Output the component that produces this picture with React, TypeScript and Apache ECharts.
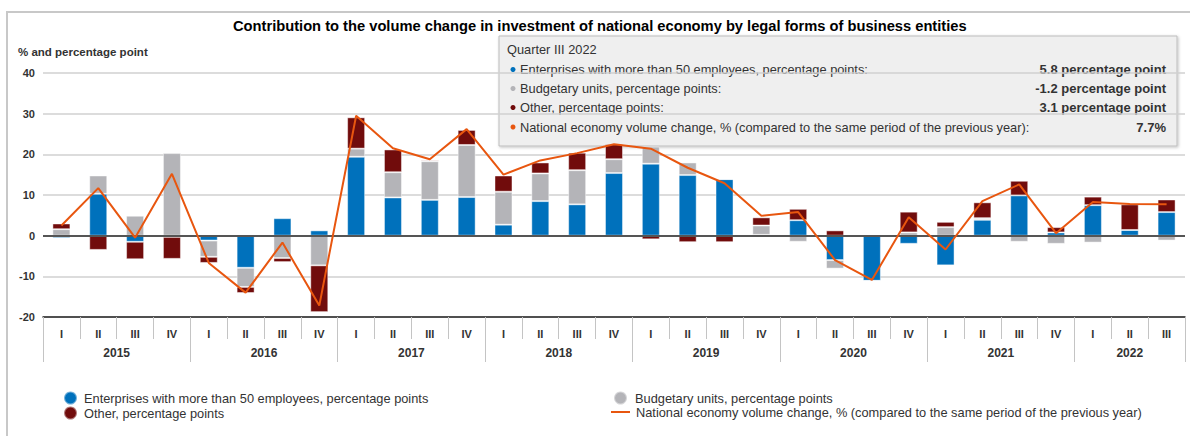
import React, { useEffect, useRef } from "react";
import * as echarts from "echarts";

const years = ["2015", "2016", "2017", "2018", "2019", "2020", "2021", "2022"];
const quarterNames = ["I", "II", "III", "IV"];
const quarterLabels = [
  "I", "II", "III", "IV", "I", "II", "III", "IV", "I", "II", "III", "IV",
  "I", "II", "III", "IV", "I", "II", "III", "IV", "I", "II", "III", "IV",
  "I", "II", "III", "IV", "I", "II", "III",
];

const enterprises = [
  -0.6, 10.3, -1.5, -0.3,
  -1.2, -7.9, 4.3, 1.3,
  19.4, 9.4, 8.8, 9.5,
  2.7, 8.5, 7.7, 15.4,
  17.7, 14.9, 13.9, 0.2,
  3.8, -6.0, -11.1, -2.0,
  -7.3, 3.9, 9.9, 0.8,
  7.5, 1.4, 5.8,
];
const budgetary = [
  1.6, 4.5, 4.9, 20.3,
  -4.0, -4.7, -5.5, -7.3,
  2.0, 6.2, 9.5, 12.8,
  8.1, 6.8, 8.4, 3.4,
  4.2, 3.1, 0.1, 2.3,
  -1.5, -2.1, 0.0, 0.8,
  2.1, 0.4, -1.5, -2.0,
  -1.7, 0.0, -1.2,
];
const other = [
  1.4, -3.5, -4.3, -5.4,
  -1.5, -1.5, -1.0, -11.5,
  7.7, 5.6, 0.3, 3.7,
  4.0, 2.7, 4.3, 3.7,
  -0.9, -1.6, -1.6, 2.0,
  2.8, 1.3, 0.2, 5.1,
  1.3, 3.9, 3.6, 1.3,
  2.1, 6.3, 3.1,
];
const national = [
  2.5, 11.7, -0.5, 15.2,
  -6.7, -14.0, -1.7, -17.2,
  29.5, 21.5, 18.8, 26.2,
  15.0, 18.5, 20.3, 22.5,
  21.4, 16.7, 12.9, 4.9,
  5.8, -6.0, -10.9, 4.5,
  -3.4, 8.5, 12.6, 0.6,
  8.3, 7.8, 7.7,
];

const yearTickValues = [0, 4, 8, 12, 16, 20, 24, 28, 31];
const yearLabelValues = [2, 6, 10, 14, 18, 22, 26, 29.5];

const S_ENT = "Enterprises with more than 50 employees, percentage points";
const S_BUD = "Budgetary units, percentage points";
const S_OTH = "Other, percentage points";
const S_NAT = "National economy volume change, % (compared to the same period of the previous year)";

const C_BLUE = "#0071bc";
const C_GRAY = "#b4b4b8";
const C_RED = "#710c0c";
const C_ORANGE = "#e8560f";

const FONT = "'Liberation Sans', Arial, sans-serif";

export default function App() {
  const ref = useRef<HTMLDivElement>(null);
  useEffect(() => {
    if (!ref.current) return;
    const chart = echarts.init(ref.current, undefined, { renderer: "svg" });
    const last = enterprises.length - 1;
    const lastYear = years[Math.floor(last / 4)];
    const lastQ = quarterNames[last % 4];
    const rows = [
      { name: S_ENT, color: C_BLUE, value: `${enterprises[last].toFixed(1)} percentage point` },
      { name: S_BUD, color: C_GRAY, value: `${budgetary[last].toFixed(1)} percentage point` },
      { name: S_OTH, color: C_RED, value: `${other[last].toFixed(1)} percentage point` },
      { name: S_NAT, color: C_ORANGE, value: `${national[last].toFixed(1)}%` },
    ];
    const rowY = [69.5, 88.5, 107.5, 127];
    const tipChildren: any[] = [
      {
        type: "rect",
        shape: { x: 499, y: 36, width: 678, height: 110 },
        style: {
          fill: "rgba(239,239,239,0.96)",
          stroke: "#bdbdbd",
          lineWidth: 1,
          shadowBlur: 3,
          shadowColor: "rgba(0,0,0,0.25)",
          shadowOffsetX: 1,
          shadowOffsetY: 1,
        },
      },
      {
        type: "text",
        x: 507,
        y: 49,
        style: {
          text: `Quarter ${lastQ} ${lastYear}`,
          font: `12.8px ${FONT}`,
          fill: "#333",
          verticalAlign: "middle",
        },
      },
    ];
    rows.forEach((r, i) => {
      tipChildren.push({
        type: "circle",
        shape: { cx: 513, cy: rowY[i], r: 2.5 },
        style: { fill: r.color },
      });
      tipChildren.push({
        type: "text",
        x: 520,
        y: rowY[i],
        style: { text: r.name + ":", font: `12.8px ${FONT}`, fill: "#333", verticalAlign: "middle" },
      });
      tipChildren.push({
        type: "text",
        x: 1166,
        y: rowY[i],
        style: {
          text: r.value,
          font: `bold 13px ${FONT}`,
          fill: "#333",
          align: "right",
          verticalAlign: "middle",
        },
      });
    });

    const barBase = {
      type: "bar",
      stack: "total",
      barWidth: 18,
      itemStyle: { borderColor: "rgba(255,255,255,0.45)", borderWidth: 1 },
    };

    const legendText = { fontSize: 12.8, color: "#333", fontFamily: FONT };

    chart.setOption({
      animation: false,
      textStyle: { fontFamily: FONT },
      title: {
        text: "Contribution to the volume change in investment of national economy by legal forms of business entities",
        left: 233,
        top: 18,
        padding: 0,
        textStyle: { fontSize: 14.7, fontWeight: "bold", color: "#000", fontFamily: FONT },
      },
      grid: { left: 43, right: 5, top: 73, height: 244 },
      legend: [
        {
          data: [
            { name: S_ENT, icon: "circle" },
            { name: S_OTH, icon: "circle" },
          ],
          orient: "vertical",
          left: 63,
          top: 390.5,
          padding: 0,
          itemGap: 0,
          itemWidth: 13,
          itemHeight: 13,
          textStyle: { ...legendText, padding: [0, 0, 0, 2] },
        },
        {
          data: [{ name: S_BUD, icon: "circle" }],
          left: 613,
          top: 390.5,
          padding: 0,
          itemWidth: 13,
          itemHeight: 13,
          textStyle: { ...legendText, padding: [0, 0, 0, 3] },
        },
        {
          data: [{ name: S_NAT, icon: "rect" }],
          left: 611,
          top: 405.5,
          padding: 0,
          itemWidth: 19,
          itemHeight: 2,
          textStyle: { ...legendText, padding: [0, 0, 0, 1] },
        },
      ],
      xAxis: [
        {
          type: "category",
          data: quarterLabels,
          position: "bottom",
          axisLine: { show: true, onZero: false, lineStyle: { color: "#222", width: 1.5 } },
          axisTick: { show: true, interval: 0, length: 22, lineStyle: { color: "#c4c4c4" } },
          axisLabel: {
            interval: 0,
            fontSize: 11,
            fontWeight: "bold",
            color: "#333",
            margin: 11,
            fontFamily: FONT,
          },
          splitLine: { show: false },
        },
        {
          type: "value",
          min: 0,
          max: 31,
          position: "bottom",
          axisLine: { show: false, onZero: false },
          axisTick: {
            show: true,
            customValues: yearTickValues,
            length: 45,
            lineStyle: { color: "#c4c4c4" },
          },
          axisLabel: {
            show: true,
            customValues: yearLabelValues,
            formatter: (v: number) => years[Math.floor(v / 4)] ?? "",
            fontSize: 12,
            fontWeight: "bold",
            color: "#333",
            margin: 30,
            fontFamily: FONT,
          },
          splitLine: { show: false },
        },
      ],
      yAxis: {
        type: "value",
        min: -20,
        max: 40,
        interval: 10,
        axisLine: { show: false },
        axisTick: { show: false },
        axisLabel: { fontSize: 11, fontWeight: "bold", color: "#333", margin: 8, fontFamily: FONT },
        splitLine: { lineStyle: { color: "#d0d0d0", width: 1.5 } },
      },
      series: [
        {
          ...barBase,
          name: S_ENT,
          data: enterprises,
          itemStyle: { ...barBase.itemStyle, color: C_BLUE },
          markLine: {
            silent: true,
            symbol: "none",
            label: { show: false },
            lineStyle: { color: "#555", width: 2, type: "solid" },
            data: [{ yAxis: 0 }],
          },
        },
        { ...barBase, name: S_BUD, data: budgetary, itemStyle: { ...barBase.itemStyle, color: C_GRAY } },
        { ...barBase, name: S_OTH, data: other, itemStyle: { ...barBase.itemStyle, color: C_RED } },
        {
          type: "line",
          name: S_NAT,
          data: national,
          symbol: "none",
          lineStyle: { color: C_ORANGE, width: 2 },
          itemStyle: { color: C_ORANGE },
          z: 5,
        },
      ],
      graphic: [
        {
          type: "rect",
          shape: { x: 7, y: 12, width: 1220, height: 460 },
          style: { fill: "none", stroke: "#c8c8c8", lineWidth: 2 },
          silent: true,
          z: -1,
        },
        {
          type: "text",
          x: 18,
          y: 52,
          style: {
            text: "% and percentage point",
            font: `bold 11.5px ${FONT}`,
            fill: "#333",
            verticalAlign: "middle",
          },
        },
        { type: "group", z: 100, children: tipChildren },
      ],
    });
    return () => chart.dispose();
  }, []);
  return (
    <div
      ref={ref}
      style={{ position: "absolute", left: 0, top: 0, width: 1190, height: 436 }}
    />
  );
}
